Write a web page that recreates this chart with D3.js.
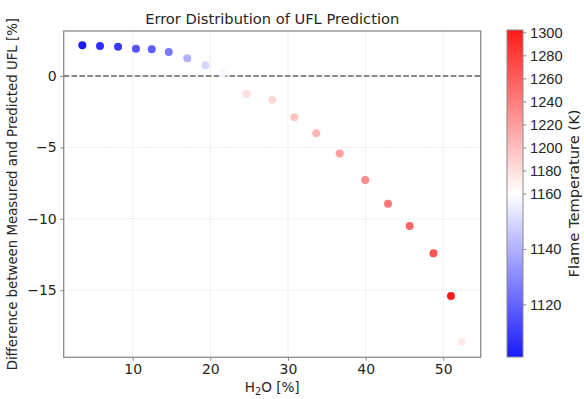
<!DOCTYPE html>
<html>
<head>
<meta charset="utf-8">
<script src="https://cdn.jsdelivr.net/npm/d3@7"></script>
<style>
  html, body { margin: 0; padding: 0; background: #fff; }
  svg { display: block; font-family: "DejaVu Sans", sans-serif; }
</style>
</head>
<body>
<svg id="chart" width="584" height="399"></svg>
<script>
// ---- data ----
const h2o = [3.51, 5.79, 8.11, 10.42, 12.45, 14.64, 17.03, 19.35, 21.59, 24.68,
             27.98, 30.81, 33.64, 36.66, 39.95, 42.88, 45.67, 48.74, 50.99, 52.37];
const errorPct = [2.15, 2.10, 2.05, 1.91, 1.87, 1.68, 1.24, 0.75, 0.19, -1.26,
                  -1.66, -2.89, -4.01, -5.42, -7.28, -8.94, -10.50, -12.42, -15.41, -18.63];
const flameTemp = [1101, 1106, 1109, 1116, 1118, 1125, 1140, 1150, 1158, 1180,
                   1184, 1196, 1205, 1218, 1232, 1244, 1254, 1266, 1301, 1172];
const xTicks = [10, 20, 30, 40, 50];
const yTicks = [0, -5, -10, -15];
const cbTicks = [1120, 1140, 1160, 1180, 1200, 1220, 1240, 1260, 1280, 1300];
const tempNorm = [1101, 1160, 1302]; // vmin, vcenter, vmax

// ---- layout ----
const svg = d3.select("#chart");
const L = 63.7, R = 480.7, T = 31, B = 357.3;
const textColor = "#262626";
const spineColor = "#8a8a8a";

const x = d3.scaleLinear().domain([1.11, 54.82]).range([L, R]);
const y = d3.scaleLinear().domain([-19.70, 3.15]).range([B, T]);
const color = d3.scaleLinear().domain(tempNorm).range(["#0000ff", "#ffffff", "#ff0000"]);

// grid
const grid = svg.append("g");
grid.selectAll("line.gx").data(xTicks).join("line")
  .attr("x1", d => x(d)).attr("x2", d => x(d)).attr("y1", T).attr("y2", B)
  .attr("stroke", "#d0d0d0").attr("stroke-width", 0.8).attr("stroke-dasharray", "1,1.5");
grid.selectAll("line.gy").data(yTicks).join("line")
  .attr("y1", d => y(d)).attr("y2", d => y(d)).attr("x1", L).attr("x2", R)
  .attr("stroke", "#d0d0d0").attr("stroke-width", 0.8).attr("stroke-dasharray", "1,1.5");

// zero dashed line
svg.append("line")
  .attr("x1", L).attr("x2", R).attr("y1", y(0)).attr("y2", y(0))
  .attr("stroke", "#666").attr("stroke-width", 1.5).attr("stroke-dasharray", "5.5,2.4");

// points
svg.append("g").selectAll("circle").data(h2o).join("circle")
  .attr("cx", d => x(d))
  .attr("cy", (d, i) => y(errorPct[i]))
  .attr("r", 4)
  .attr("fill", (d, i) => color(flameTemp[i]))
  .attr("fill-opacity", 0.9);

// axes
const xAxis = svg.append("g").attr("transform", `translate(0,${B})`)
  .call(d3.axisBottom(x).tickValues(xTicks).tickSize(3.5).tickPadding(3.5).tickFormat(d3.format("d")));
const yAxis = svg.append("g").attr("transform", `translate(${L},0)`)
  .call(d3.axisLeft(y).tickValues(yTicks).tickSize(3.5).tickPadding(3.5)
    .tickFormat(d => d < 0 ? "\u2212" + Math.abs(d) : d));
[xAxis, yAxis].forEach(a => {
  a.select(".domain").remove();
  a.selectAll(".tick line").attr("stroke", spineColor);
  a.selectAll(".tick text").attr("fill", textColor).style("font-size", "14px")
    .style("font-family", "DejaVu Sans");
});

// spines
svg.append("rect").attr("x", L).attr("y", T).attr("width", R - L).attr("height", B - T)
  .attr("fill", "none").attr("stroke", spineColor).attr("stroke-width", 1.3);

// title
svg.append("text").attr("x", (L + R) / 2).attr("y", 24).attr("text-anchor", "middle")
  .attr("fill", textColor).style("font-size", "14.67px")
  .text("Error Distribution of UFL Prediction");

// x label
const xl = svg.append("text").attr("x", (L + R) / 2).attr("y", 392).attr("text-anchor", "middle")
  .attr("fill", textColor).style("font-size", "13.6px");
xl.append("tspan").text("H");
xl.append("tspan").attr("dy", 3).style("font-size", "9.7px").text("2");
xl.append("tspan").attr("dy", -3).text("O [%]");

// y label
svg.append("text")
  .attr("transform", `translate(17,${(T + B) / 2}) rotate(-90)`)
  .attr("text-anchor", "middle").attr("fill", textColor).style("font-size", "13.33px")
  .text("Difference between Measured and Predicted UFL [%]");

// colorbar
const cbL = 507, cbW = 16, cbT = 30, cbB = 357;
const cy = d3.scaleLinear().domain(tempNorm).range([cbB, (cbT + cbB) / 2, cbT]);
const defs = svg.append("defs");
const grad = defs.append("linearGradient").attr("id", "cbgrad")
  .attr("x1", 0).attr("x2", 0).attr("y1", 1).attr("y2", 0);
grad.selectAll("stop").data(tempNorm).join("stop")
  .attr("offset", (d, i) => i / 2)
  .attr("stop-color", d => color(d)).attr("stop-opacity", 0.9);
svg.append("rect").attr("x", cbL).attr("y", cbT).attr("width", cbW).attr("height", cbB - cbT)
  .attr("fill", "url(#cbgrad)").attr("stroke", spineColor).attr("stroke-width", 1);
const cbAxis = svg.append("g").attr("transform", `translate(${cbL + cbW},0)`)
  .call(d3.axisRight(cy).tickValues(cbTicks).tickSize(3.5).tickPadding(3.5).tickFormat(d3.format("d")));
cbAxis.select(".domain").remove();
cbAxis.selectAll(".tick line").attr("stroke", spineColor);
cbAxis.selectAll(".tick text").attr("fill", textColor).style("font-size", "14.67px");

svg.append("text")
  .attr("transform", `translate(579,${(cbT + cbB) / 2}) rotate(-90)`)
  .attr("text-anchor", "middle").attr("fill", textColor).style("font-size", "14.67px")
  .text("Flame Temperature (K)");
</script>
</body>
</html>
